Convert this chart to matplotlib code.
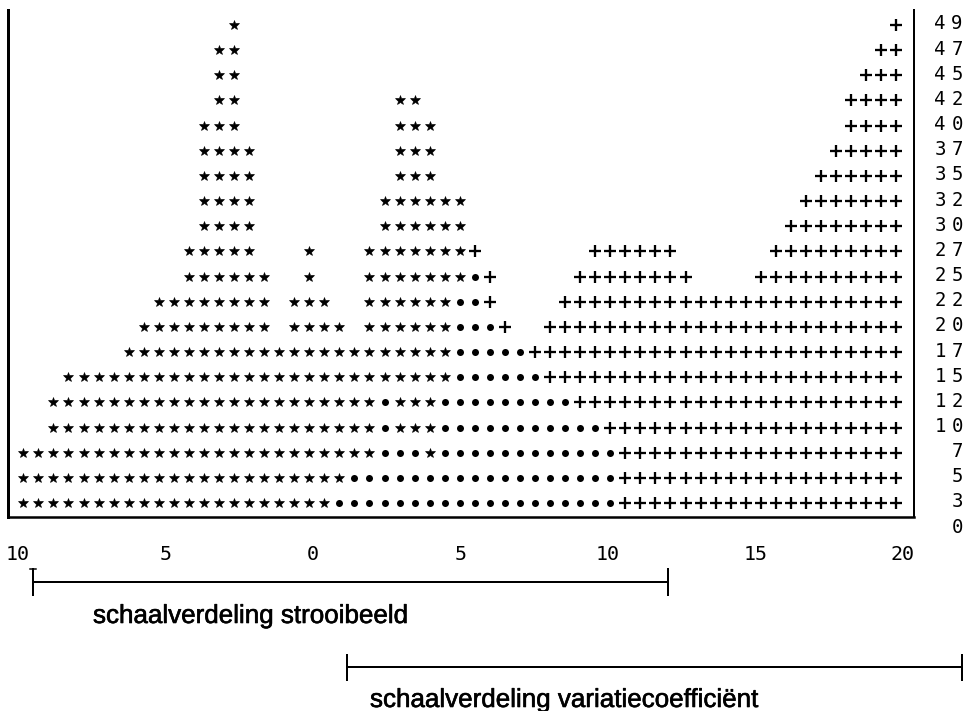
import matplotlib
matplotlib.use("Agg")
import matplotlib.pyplot as plt
import matplotlib.patheffects as pe

# ---- data ----
# column heights of the two overlaid histograms (59 columns, left -> right)
star_counts = [3, 3, 5, 6, 6, 6, 6, 7, 8, 9, 9, 11, 16, 19, 20, 15, 10, 7, 9, 11,
               9, 8, 7, 11, 13, 17, 17, 16, 13, 13, 10, 8, 7, 7, 6, 5, 5, 4, 4, 3,
               0, 0, 0, 0, 0, 0, 0, 0, 0, 0, 0, 0, 0, 0, 0, 0, 0, 0, 0]
plus_counts = [0, 0, 0, 0, 0, 0, 0, 0, 0, 0, 0, 0, 0, 0, 0, 0, 0, 0, 0, 0,
               0, 1, 2, 2, 5, 3, 3, 2, 5, 9, 11, 10, 8, 7, 7, 8, 9, 10, 11, 11,
               11, 11, 11, 11, 10, 9, 9, 9, 9, 10, 11, 12, 13, 14, 15, 17, 18, 19, 20]
bin_start = -9.82
bin_width = 0.5102

x_ticks = [-10, -5, 0, 5, 10, 15, 20]
x_tick_labels = ["10", "5", "0", "5", "10", "15", "20"]
row_labels = ["0", "3", "5", "7", "10", "12", "15", "17", "20", "22", "25",
              "27", "30", "32", "35", "37", "40", "42", "45", "47", "49"]

label_strooi = "schaalverdeling strooibeeld"
label_var = "schaalverdeling variatiecoefficiënt"

# ---- figure ----
W, H = 967, 711
fig = plt.figure(figsize=(W / 72, H / 72), dpi=72)
fig.patch.set_facecolor("white")

ax = fig.add_axes([8.3 / W, (H - 516.7) / H, (914 - 8.3) / W, 506.7 / H])
ax.set_xlim(-10.329, 20.373)
ax.set_ylim(0.4555, 20.594)
ax.set_facecolor("none")

stars_x, stars_y, dots_x, dots_y, plus_x, plus_y = [], [], [], [], [], []
for j, (s, p) in enumerate(zip(star_counts, plus_counts)):
    x = bin_start + bin_width * j
    for r in range(1, max(s, p) + 1):
        if r <= s and r <= p:
            dots_x.append(x); dots_y.append(r)
        elif r <= s:
            stars_x.append(x); stars_y.append(r)
        else:
            plus_x.append(x); plus_y.append(r)

ax.plot(stars_x, stars_y, ls="none", marker="*", ms=10.5, mfc="black", mec="black", mew=0.6)
ax.plot(dots_x, dots_y, ls="none", marker="o", ms=7, mfc="black", mec="black", mew=0)
ax.plot(plus_x, plus_y, ls="none", marker="+", ms=12, mec="black", mew=2.3)

ax.spines["top"].set_visible(False)
ax.spines["left"].set_linewidth(3)
ax.spines["bottom"].set_linewidth(2.5)
ax.spines["right"].set_linewidth(2)

ax.set_yticks([])
ax.set_xticks(x_ticks)
ax.set_xticklabels(x_tick_labels, fontfamily="DejaVu Sans Mono", fontsize=20)
ax.tick_params(axis="x", length=0, pad=28)

# right-hand row labels (letter-spaced)
ytrans = ax.get_yaxis_transform()
for k, lab in enumerate(row_labels):
    n = len(lab)
    for i, ch in enumerate(lab):
        dx = 43 - (n - 1 - i) * 17
        ax.annotate(ch, xy=(1, k), xycoords=ytrans, xytext=(dx, 1),
                    textcoords="offset points", ha="center", va="center",
                    fontsize=19, family="DejaVu Sans Mono", annotation_clip=False)

# ---- scale bars below ----
ann = fig.add_axes([0, 0, 1, 1])
ann.set_xlim(0, W)
ann.set_ylim(H, 0)
ann.axis("off")
ann.set_facecolor("none")

heavy = [pe.withStroke(linewidth=0.6, foreground="black")]

ann.plot([33, 668], [582, 582], color="black", lw=2)
ann.plot([33, 33], [569, 595], color="black", lw=2)
ann.plot([30, 36], [569, 569], color="black", lw=1.5)
ann.plot([668, 668], [569, 595], color="black", lw=2)
ann.text(93, 623, label_strooi, fontsize=26, family="Liberation Sans",
         ha="left", va="baseline", path_effects=heavy)

ann.plot([347, 962], [667, 667], color="black", lw=2)
ann.plot([347, 347], [655, 680], color="black", lw=2)
ann.plot([962, 962], [655, 680], color="black", lw=2)
ann.text(370, 707, label_var, fontsize=26, family="Liberation Sans",
         ha="left", va="baseline", path_effects=heavy)

fig.savefig("out.png", dpi=72, facecolor="white")
